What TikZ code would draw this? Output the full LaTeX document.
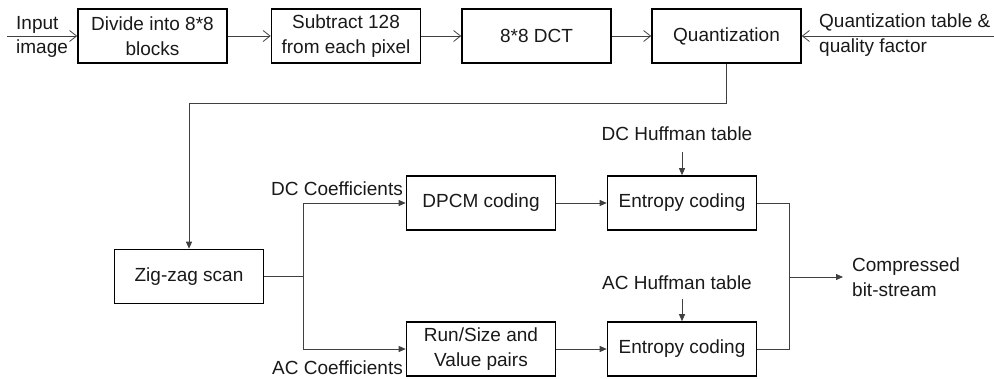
\documentclass[tikz,border=0pt]{standalone}
\usepackage{fontspec}
\setmainfont{Liberation Sans}
\usetikzlibrary{arrows.meta}
\begin{document}
\begin{tikzpicture}[x=1pt,y=-1pt,
  every node/.style={text=black!90, font=\fontsize{19}{24.5}\selectfont},
  stage/.style={draw=black, line width=1.6pt, minimum width=149pt, minimum height=54pt,
    align=center, inner sep=2pt},
  label/.style={align=left, inner sep=0pt},
  wire/.style={draw=black!75, line width=0.8pt},
  openarrow/.style={wire, -{Straight Barb[length=7pt,width=11pt,line width=0.8pt]}},
  fillarrow/.style={wire, -{Triangle[length=7pt,width=6pt]}}]
  \useasboundingbox (0,0) rectangle (994,378);

  % top row: preprocessing chain
  \node[stage] (b1) at (152.5,36) {Divide into 8*8\\blocks};
  \node[stage] (b2) at (346,36) {Subtract 128\\from each pixel};
  \node[stage] (b3) at (536.5,36) {8*8 DCT};
  \node[stage] (b4) at (726.5,36) {Quantization};

  \node[label, anchor=west] (inl) at (16,37) {Input\\image};
  \node[label, anchor=west] (qtl) at (819,35) {Quantization table \&\\quality factor};
  \coordinate (src) at (7,36);
  \coordinate (qsrc) at (994,36);

  \draw[openarrow] (src) -- (b1.west);
  \draw[openarrow] (b1) -- (b2);
  \draw[openarrow] (b2) -- (b3);
  \draw[openarrow] (b3) -- (b4);
  \draw[openarrow] (qsrc) -- (b4.east);

  % scan and split into DC / AC paths
  \node[stage] (zz) at (189,276.5) {Zig-zag scan};
  \node[stage] (dpcm) at (481,203) {DPCM coding};
  \node[stage] (rs) at (481,349) {Run/Size and\\Value pairs};
  \node[stage] (ec1) at (682,203) {Entropy coding};
  \node[stage] (ec2) at (682,349) {Entropy coding};

  \draw[fillarrow] (b4.south) -- (b4.south |- 0,103) -| (zz.north);

  \coordinate (split) at (303,276.5);
  \draw[wire] (zz.east) -- (split);
  \draw[fillarrow] (split) |- (dpcm.west);
  \draw[fillarrow] (split) |- (rs.west);

  \node[label, anchor=east] (dcl) at (403,189) {DC Coefficients};
  \node[label, anchor=east] (acl) at (403,368) {AC Coefficients};

  \draw[fillarrow] (dpcm) -- (ec1);
  \draw[fillarrow] (rs) -- (ec2);

  \node[label] (dch) at (677,134) {DC Huffman table};
  \node[label] (ach) at (677,283) {AC Huffman table};
  \draw[fillarrow] (ec1.north |- 0,152) -- (ec1.north);
  \draw[fillarrow] (ec2.north |- 0,299) -- (ec2.north);

  % merge into the output stream
  \coordinate (merge) at (789,277);
  \draw[wire] (ec1.east) -| (merge);
  \draw[wire] (ec2.east) -| (merge);
  \node[label, anchor=west, inner xsep=9pt] (out) at (843,277) {Compressed\\bit-stream};
  \draw[fillarrow] (merge) -- (out.west);
\end{tikzpicture}
\end{document}
